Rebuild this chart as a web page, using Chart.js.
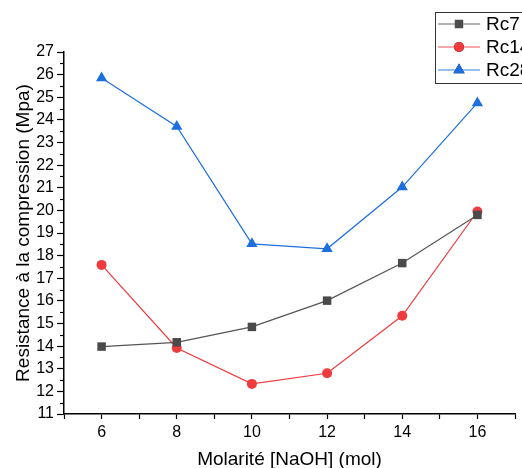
<!DOCTYPE html>
<html>
<head>
<meta charset="utf-8">
<script src="https://cdn.jsdelivr.net/npm/chart.js@4/dist/chart.umd.min.js"></script>
<style>
  html, body { margin: 0; padding: 0; background: #fff; overflow: hidden; }
  #wrap { width: 522px; height: 468px; position: relative; }
</style>
</head>
<body>
<div id="wrap"><canvas id="chart" width="522" height="468"></canvas></div>
<script>
// molarity of NaOH
const molarite = [6, 8, 10, 12, 14, 16];
const rc7 = [13.98, 14.17, 14.85, 16.01, 17.67, 19.8];
const rc14 = [17.59, 13.92, 12.33, 12.8, 15.34, 19.95];
const rc28 = [25.85, 23.71, 18.52, 18.3, 21.03, 24.75];
const xTickLabels = [6, 8, 10, 12, 14, 16];
const seriesNames = ['Rc7', 'Rc14', 'Rc28'];

const FONT = 'Arial, "Liberation Sans", sans-serif';

const toPoints = vals => vals.map((v, i) => ({ x: molarite[i], y: v }));

const series = [
  { label: seriesNames[0], data: rc7, line: '#555555', fill: '#4a4a4a', style: 'rect', r: 6 },
  { label: seriesNames[1], data: rc14, line: '#ef3b3e', fill: '#ef3b3e', style: 'circle', r: 5 },
  { label: seriesNames[2], data: rc28, line: '#1d6fe0', fill: '#1d6fe0', style: 'triangle', r: 6.5 }
];

// minor ticks on the y axis (half units), shorter than the major ones
const minorTicks = {
  id: 'minorTicks',
  afterDraw(chart) {
    const ctx = chart.ctx;
    const y = chart.scales.y;
    ctx.save();
    ctx.strokeStyle = '#000';
    ctx.lineWidth = 1.2;
    for (let v = y.min + 0.5; v < y.max; v += 1) {
      const py = Math.round(y.getPixelForValue(v)) + 0.5;
      ctx.beginPath();
      ctx.moveTo(y.right, py);
      ctx.lineTo(y.right - 4, py);
      ctx.stroke();
    }
    ctx.restore();
  }
};

// boxed legend at the top right (runs off the canvas edge like the original)
const boxLegend = {
  id: 'boxLegend',
  afterDraw(chart) {
    const ctx = chart.ctx;
    const left = 435, top = 12, rowH = 23;
    ctx.save();
    ctx.fillStyle = '#fff';
    ctx.fillRect(left, top, 120, 71);
    ctx.strokeStyle = '#333';
    ctx.lineWidth = 1;
    ctx.strokeRect(left + 0.5, top + 0.5, 120, 71);
    chart.data.datasets.forEach((ds, i) => {
      const cy = top + 12 + i * rowH;
      ctx.strokeStyle = ds.borderColor;
      ctx.globalAlpha = 0.6;
      ctx.lineWidth = 1.5;
      ctx.beginPath();
      ctx.moveTo(left + 3, cy);
      ctx.lineTo(left + 45, cy);
      ctx.stroke();
      ctx.globalAlpha = 1;
      Chart.helpers.drawPoint(ctx, {
        pointStyle: ds.pointStyle, radius: ds.pointRadius, borderWidth: 0
      }, left + 24, cy);
      ctx.fillStyle = ds.pointBackgroundColor;
      ctx.fill();
      ctx.fillStyle = '#000';
      ctx.font = '19px ' + FONT;
      ctx.textBaseline = 'middle';
      ctx.fillText(ds.label, left + 51, cy + 1);
    });
    ctx.restore();
  }
};

new Chart(document.getElementById('chart'), {
  type: 'line',
  data: {
    datasets: series.map(s => ({
      label: s.label,
      data: toPoints(s.data),
      borderColor: s.line,
      borderWidth: 1.2,
      pointStyle: s.style,
      pointRadius: s.r,
      pointBackgroundColor: s.fill,
      pointBorderColor: s.fill,
      pointBorderWidth: 0,
      tension: 0
    }))
  },
  options: {
    responsive: false,
    animation: false,
    layout: { padding: { top: 52, right: 7, left: 12, bottom: 0 } },
    plugins: {
      legend: { display: false },
      tooltip: { enabled: false }
    },
    scales: {
      x: {
        type: 'linear',
        min: 5,
        max: 17,
        afterFit: s => { s.height = 54; },
        border: { color: '#000', width: 1.5 },
        grid: { drawOnChartArea: false, drawTicks: true, tickLength: 5, tickColor: '#000', tickWidth: 1.2 },
        ticks: {
          stepSize: 1,
          autoSkip: false,
          maxRotation: 0,
          color: '#000',
          font: { size: 16, family: FONT },
          padding: 4,
          callback: v => xTickLabels.includes(v) ? String(v) : ''
        },
        title: {
          display: true,
          text: 'Molarité [NaOH] (mol)',
          color: '#000',
          font: { size: 19, family: FONT },
          padding: { top: 2, bottom: -3 }
        }
      },
      y: {
        min: 11,
        max: 27,
        afterFit: s => { s.width = 52; },
        border: { color: '#000', width: 1.5 },
        grid: { drawOnChartArea: false, drawTicks: true, tickLength: 7, tickColor: '#000', tickWidth: 1.2 },
        ticks: {
          stepSize: 1,
          color: '#000',
          font: { size: 16, family: FONT },
          padding: 3
        },
        title: {
          display: true,
          text: 'Resistance à la compression (Mpa)',
          color: '#000',
          font: { size: 19, family: FONT },
          padding: { top: 0, bottom: 2 }
        }
      }
    }
  },
  plugins: [minorTicks, boxLegend]
});
</script>
</body>
</html>
